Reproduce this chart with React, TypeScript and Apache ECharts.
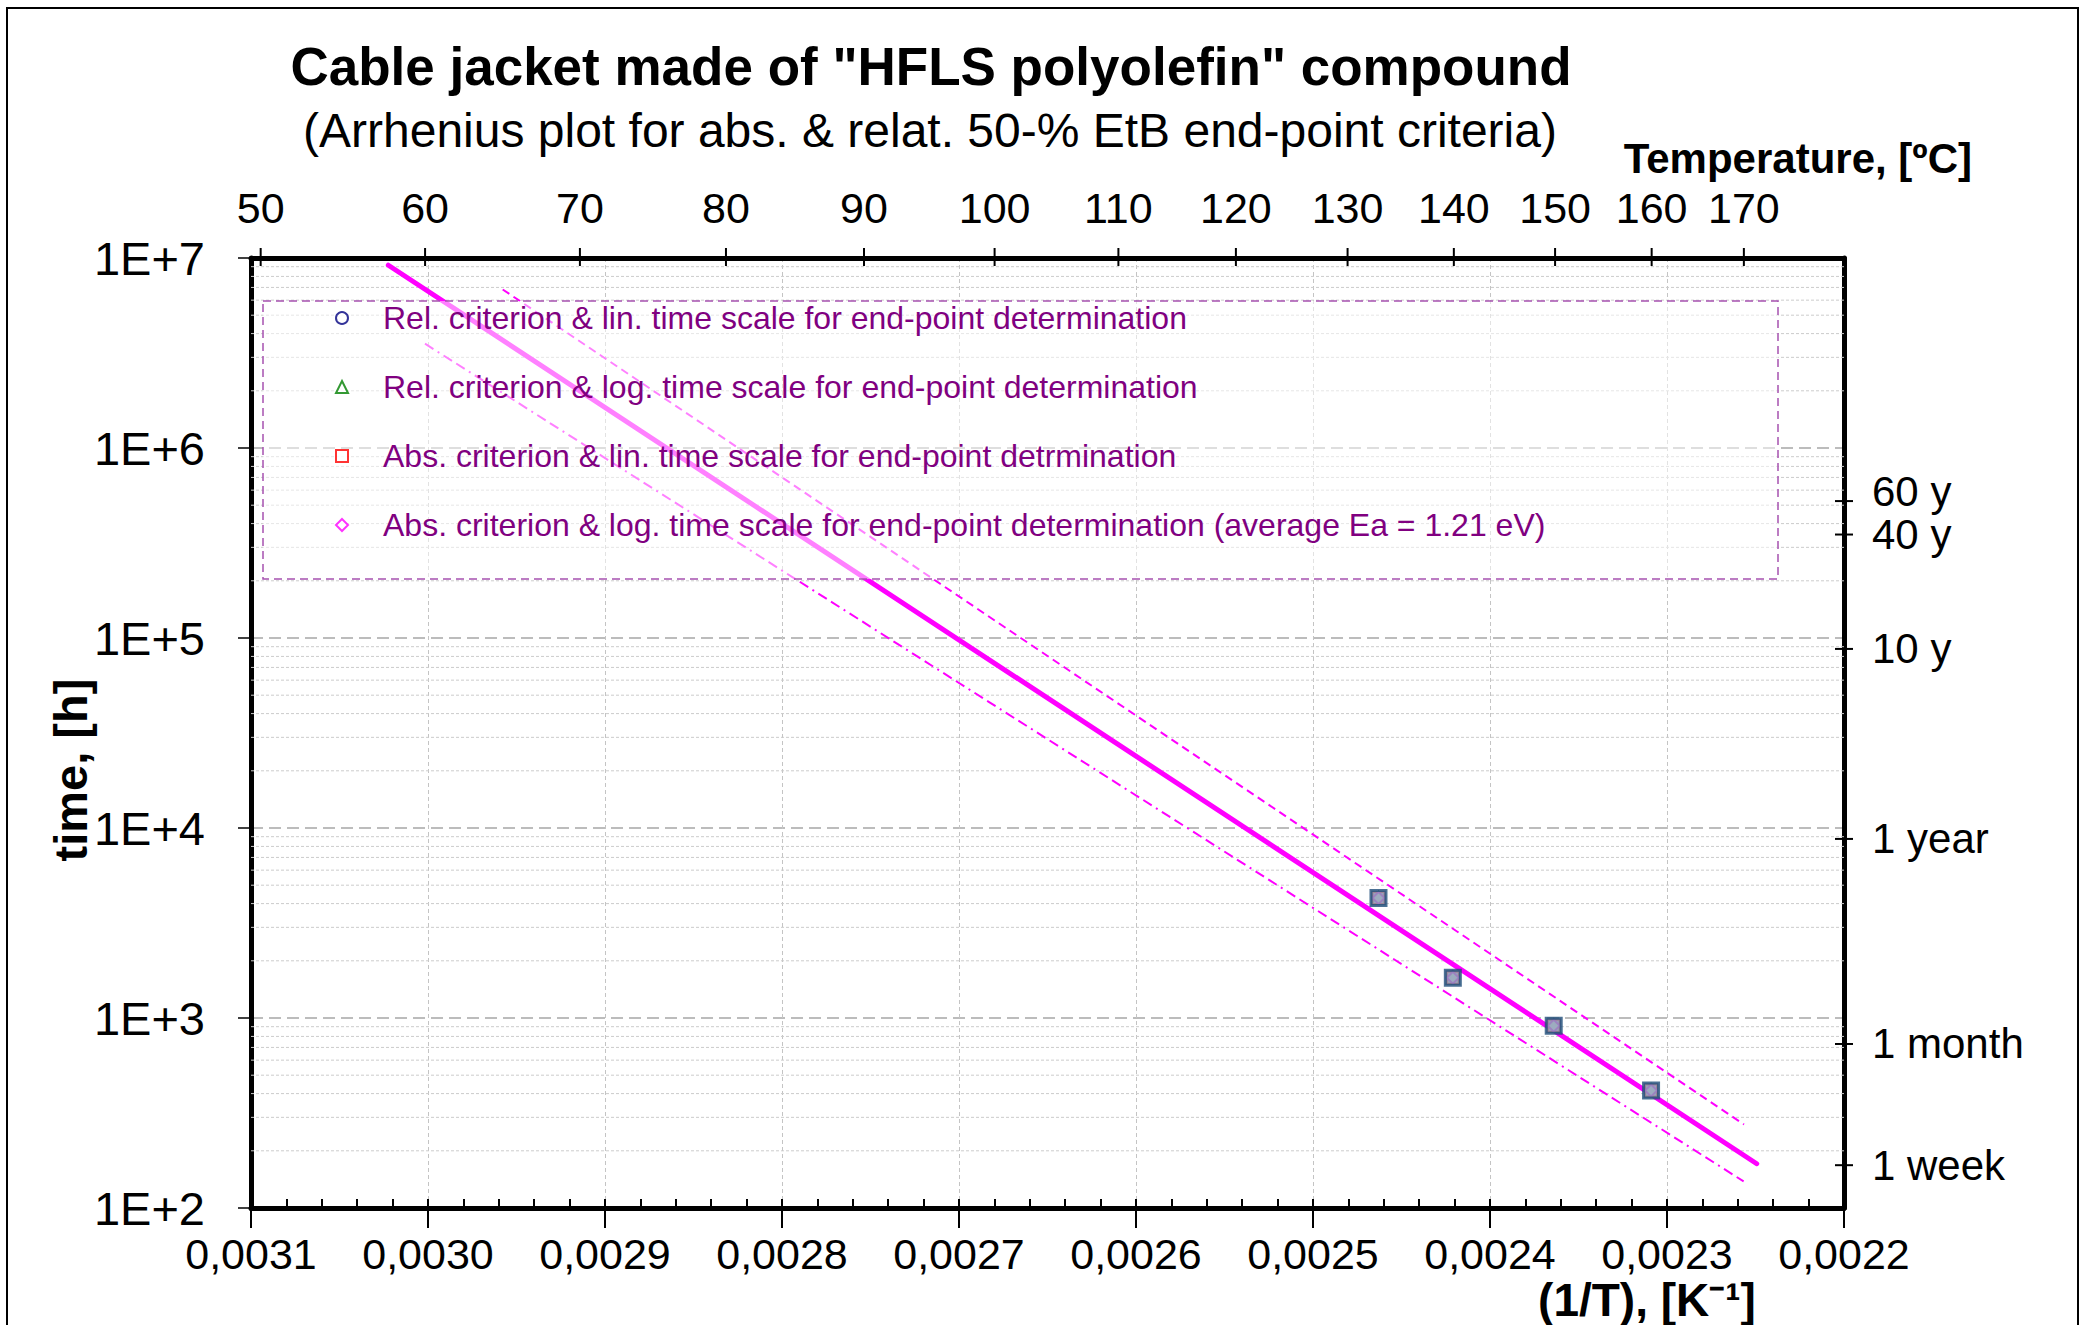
import React, { useEffect, useRef } from "react";
import * as echarts from "echarts";

const FONT = '"Liberation Sans", Arial, Helvetica, sans-serif';

// measured ageing test points: 1/T [K^-1] and time to end-point [h]
const pointInvT = [0.002463, 0.002421, 0.002364, 0.002309];
const pointHours = [4280, 1630, 910, 415];

const legendNames = [
  "Rel. criterion & lin. time scale for end-point determination",
  "Rel. criterion & log. time scale for end-point determination",
  "Abs. criterion & lin. time scale for end-point detrmination",
  "Abs. criterion & log. time scale for end-point determination (average Ea = 1.21 eV)",
];
const legendSymbols = ["circle", "triangle", "rect", "diamond"];
const legendColors = ["#000080", "#008000", "#ff0000", "#ff00ff"];

// Arrhenius regression line and confidence band (end points)
const fitInvT = [0.0030224, 0.0022493];
const fitHours = [9.16e6, 171];
const upperInvT = [0.0029578, 0.0022565];
const upperHours = [6.83e6, 275];
const lowerInvT = [0.0030017, 0.0022567];
const lowerHours = [3.54e6, 138];

// secondary axes
const tempTicks = [50, 60, 70, 80, 90, 100, 110, 120, 130, 140, 150, 160, 170];
const timeMarkHours = [525600, 350400, 87600, 8760, 730, 168];
const timeMarkLabels = ["60 y", "40 y", "10 y", "1 year", "1 month", "1 week"];
const timeMarkShift = [-10, 0, 0, 0, 0, 0];

// log grid
const decades = [100, 1000, 10000, 100000, 1000000];
const minorMultipliers = [2, 3, 4, 5, 6, 7, 8, 9];

const X_MIN = 0.0022;
const X_MAX = 0.0031;
const Y_MIN = 100;
const Y_MAX = 1e7;

export default function App() {
  const ref = useRef<HTMLDivElement>(null);

  useEffect(() => {
    if (!ref.current) return;
    const chart = echarts.init(ref.current, undefined, { renderer: "svg" });

    const pts = pointInvT.map((x, i) => [x, pointHours[i]]);
    const minorGrid: number[][] = [];
    decades.forEach((d) => minorMultipliers.forEach((m) => minorGrid.push([X_MAX, d * m])));

    const legendSeries = legendNames.map((name, i) => ({
      type: "scatter",
      name,
      data: pts,
      symbol: legendSymbols[i],
      symbolSize: 12,
      itemStyle: { color: "#ffffff", borderColor: legendColors[i], borderWidth: 2 },
      z: 3,
      silent: true,
    }));

    const option: any = {
      animation: false,
      backgroundColor: "#ffffff",
      grid: { left: 251, top: 258, width: 1593, height: 950, outerBoundsMode: "none", containLabel: false },
      xAxis: [
        {
          type: "value",
          position: "bottom",
          min: X_MIN,
          max: X_MAX,
          interval: 0.0001,
          inverse: true,
          axisLine: { show: true, onZero: false, lineStyle: { color: "#000", width: 5 } },
          axisTick: { show: true, inside: false, length: 20, lineStyle: { color: "#000", width: 2 } },
          axisLabel: {
            show: true,
            margin: 24,
            color: "#000",
            fontSize: 43,
            fontFamily: FONT,
            showMinLabel: true,
            showMaxLabel: true,
            hideOverlap: false,
            formatter: (v: number) => v.toFixed(4).replace(".", ","),
          },
          splitLine: { show: true, lineStyle: { color: "#c4c4c4", type: [4, 3], width: 1 } },
        },
        {
          type: "value",
          position: "top",
          min: X_MIN,
          max: X_MAX,
          inverse: true,
          axisLine: { show: true, onZero: false, lineStyle: { color: "#000", width: 5 } },
          axisTick: { show: false },
          axisLabel: { show: false },
          splitLine: { show: false },
        },
        {
          type: "value",
          position: "bottom",
          min: X_MIN,
          max: X_MAX,
          interval: 0.0001,
          inverse: true,
          axisLine: { show: false, onZero: false },
          axisTick: { show: true, inside: true, length: 9, lineStyle: { color: "#000", width: 2 } },
          minorTick: { show: true, splitNumber: 5, length: 9, lineStyle: { color: "#000", width: 2 } },
          axisLabel: { show: false },
          splitLine: { show: false },
        },
      ],
      yAxis: [
        {
          type: "log",
          logBase: 10,
          position: "left",
          min: Y_MIN,
          max: Y_MAX,
          axisLine: { show: true, onZero: false, lineStyle: { color: "#000", width: 5 } },
          axisTick: { show: true, inside: false, length: 13, lineStyle: { color: "#000", width: 1.5 } },
          axisLabel: {
            show: true,
            margin: 46,
            color: "#000",
            fontSize: 47,
            fontFamily: FONT,
            showMinLabel: true,
            showMaxLabel: true,
            formatter: (v: number) => "1E+" + Math.round(Math.log10(v)),
          },
          splitLine: { show: true, lineStyle: { color: "#a6a6a6", type: [12, 6], width: 1.5 } },
        },
        {
          type: "log",
          logBase: 10,
          position: "right",
          min: Y_MIN,
          max: Y_MAX,
          axisLine: { show: true, onZero: false, lineStyle: { color: "#000", width: 5 } },
          axisTick: { show: false },
          axisLabel: { show: false },
          splitLine: { show: false },
        },
      ],
      legend: {
        show: true,
        orient: "vertical",
        left: 335,
        top: 302,
        padding: 0,
        itemGap: 37,
        itemWidth: 12,
        itemHeight: 12,
        selectedMode: false,
        z: 20,
        textStyle: { color: "#800080", fontSize: 32, fontFamily: FONT, padding: [0, 0, 0, 30] },
        data: legendNames.map((name, i) => ({
          name,
          icon: legendSymbols[i],
          itemStyle: { color: "#ffffff", borderColor: legendColors[i], borderWidth: 2 },
        })),
      },
      graphic: [
        {
          type: "rect",
          silent: true,
          z: 0,
          shape: { x: 7, y: 8, width: 2071, height: 1400 },
          style: { fill: "transparent", stroke: "#000", lineWidth: 2 },
        },
        {
          type: "rect",
          silent: true,
          z: 10,
          shape: { x: 263, y: 301, width: 1515, height: 278 },
          style: { fill: "rgba(255,255,255,0.5)", stroke: "#a652b0", lineWidth: 1.5, lineDash: [8, 5] },
        },
        {
          type: "text",
          x: 931,
          y: 66,
          silent: true,
          style: {
            text: 'Cable jacket made of "HFLS polyolefin" compound',
            fill: "#000",
            fontSize: 53,
            fontWeight: "bold",
            fontFamily: FONT,
            align: "center",
            verticalAlign: "middle",
          },
        },
        {
          type: "text",
          x: 930,
          y: 130,
          silent: true,
          style: {
            text: "(Arrhenius plot for abs. & relat. 50-% EtB end-point criteria)",
            fill: "#000",
            fontSize: 48,
            fontFamily: FONT,
            align: "center",
            verticalAlign: "middle",
          },
        },
        {
          type: "text",
          x: 1972,
          y: 158,
          silent: true,
          style: {
            text: "Temperature, [ºC]",
            fill: "#000",
            fontSize: 42,
            fontWeight: "bold",
            fontFamily: FONT,
            align: "right",
            verticalAlign: "middle",
          },
        },
        {
          type: "text",
          x: 1647,
          y: 1300,
          silent: true,
          style: {
            text: "(1/T), [K⁻¹]",
            fill: "#000",
            fontSize: 46,
            fontWeight: "bold",
            fontFamily: FONT,
            align: "center",
            verticalAlign: "middle",
          },
        },
        {
          type: "text",
          x: 70,
          y: 770,
          rotation: Math.PI / 2,
          silent: true,
          style: {
            text: "time, [h]",
            fill: "#000",
            fontSize: 47,
            fontWeight: "bold",
            fontFamily: FONT,
            align: "center",
            verticalAlign: "middle",
          },
        },
      ],
      series: [
        {
          type: "custom",
          name: "minorGrid",
          xAxisIndex: 0,
          yAxisIndex: 0,
          silent: true,
          clip: false,
          z: 1,
          data: minorGrid,
          renderItem: (params: any, api: any) => {
            const v = api.value(1);
            const a = api.coord([X_MAX, v]);
            const b = api.coord([X_MIN, v]);
            return {
              type: "line",
              shape: { x1: a[0], y1: a[1], x2: b[0], y2: b[1] },
              style: { stroke: "#cccccc", lineWidth: 1, lineDash: [3, 2] },
            };
          },
        },
        {
          type: "custom",
          name: "tempAxis",
          xAxisIndex: 0,
          yAxisIndex: 0,
          silent: true,
          clip: false,
          z: 6,
          data: tempTicks.map((t) => [1 / (t + 273.15), Y_MAX]),
          renderItem: (params: any, api: any) => {
            const p = api.coord([api.value(0), Y_MAX]);
            return {
              type: "group",
              children: [
                {
                  type: "line",
                  shape: { x1: p[0], y1: p[1] - 10, x2: p[0], y2: p[1] + 8 },
                  style: { stroke: "#000", lineWidth: 2 },
                },
                {
                  type: "text",
                  x: p[0],
                  y: p[1] - 50,
                  style: {
                    text: String(tempTicks[params.dataIndex]),
                    fill: "#000",
                    fontSize: 43,
                    fontFamily: FONT,
                    align: "center",
                    verticalAlign: "middle",
                  },
                },
              ],
            };
          },
        },
        {
          type: "custom",
          name: "timeMarks",
          xAxisIndex: 0,
          yAxisIndex: 0,
          silent: true,
          clip: false,
          z: 6,
          data: timeMarkHours.map((h) => [X_MIN, h]),
          renderItem: (params: any, api: any) => {
            const p = api.coord([X_MIN, api.value(1)]);
            return {
              type: "group",
              children: [
                {
                  type: "line",
                  shape: { x1: p[0] - 9, y1: p[1], x2: p[0] + 9, y2: p[1] },
                  style: { stroke: "#000", lineWidth: 2 },
                },
                {
                  type: "text",
                  x: p[0] + 28,
                  y: p[1] + timeMarkShift[params.dataIndex],
                  style: {
                    text: timeMarkLabels[params.dataIndex],
                    fill: "#000",
                    fontSize: 42,
                    fontFamily: FONT,
                    align: "left",
                    verticalAlign: "middle",
                  },
                },
              ],
            };
          },
        },
        {
          type: "line",
          name: "fit",
          data: fitInvT.map((x, i) => [x, fitHours[i]]),
          showSymbol: false,
          symbol: "none",
          silent: true,
          z: 2,
          lineStyle: { color: "#ff00ff", width: 5, cap: "round" },
        },
        {
          type: "line",
          name: "upper",
          data: upperInvT.map((x, i) => [x, upperHours[i]]),
          showSymbol: false,
          symbol: "none",
          silent: true,
          z: 2,
          lineStyle: { color: "#ff00ff", width: 2, type: [8, 5] },
        },
        {
          type: "line",
          name: "lower",
          data: lowerInvT.map((x, i) => [x, lowerHours[i]]),
          showSymbol: false,
          symbol: "none",
          silent: true,
          z: 2,
          lineStyle: { color: "#ff00ff", width: 2, type: [10, 5, 2, 5, 10, 5] },
        },
        ...legendSeries,
        {
          type: "scatter",
          name: "points",
          data: pts,
          symbol: "rect",
          symbolSize: 15,
          silent: true,
          z: 5,
          itemStyle: { color: "#8497b0", borderColor: "#1f4e79", borderWidth: 3 },
        },
      ],
    };

    chart.setOption(option);
    return () => chart.dispose();
  }, []);

  return (
    <div
      ref={ref}
      style={{ position: "fixed", left: 0, top: 0, width: 2081, height: 1325, background: "#fff" }}
    />
  );
}
